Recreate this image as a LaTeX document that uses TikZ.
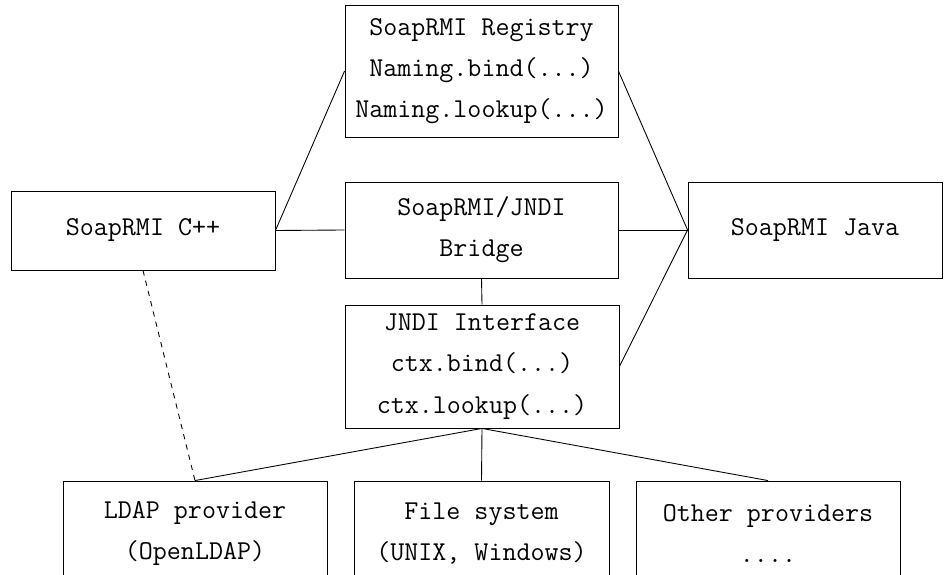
\documentclass[tikz,border=0pt]{standalone}
\usetikzlibrary{positioning}

\tikzset{
  box/.style={draw,line width=0.5pt,align=center,inner sep=0pt,
    font=\ttfamily\fontsize{15.5}{23.5}\selectfont},
  link/.style={line width=0.5pt},
}

\begin{document}
\begin{tikzpicture}

\useasboundingbox (0,0) rectangle (18.88,-11.5);

% -- registry
\node [box,minimum width=5.46cm,minimum height=2.64cm] (reg) at (9.63,-1.42)
  {SoapRMI Registry\\Naming.bind(...)\\Naming.lookup(...)};

% -- middle row
\node [box,minimum width=5.28cm,minimum height=1.58cm] (cpp) at (2.86,-4.61) {SoapRMI C++};
\node [box,minimum width=5.46cm,minimum height=1.92cm] (bridge) at (9.63,-4.60) {SoapRMI/JNDI\\Bridge};
\node [box,minimum width=5.08cm,minimum height=1.92cm] (java) at (16.3,-4.60) {SoapRMI Java};

% -- jndi
\node [box,minimum width=5.48cm,minimum height=2.46cm] (jndi) at (9.64,-7.33)
  {JNDI Interface\\ctx.bind(...)\\ctx.lookup(...)};

% -- providers
\node [box,minimum width=5.28cm,minimum height=2.1cm] (ldap) at (3.90,-10.67) {LDAP provider\\(OpenLDAP)};
\node [box,minimum width=5.10cm,minimum height=2.1cm] (file) at (9.63,-10.67) {File system\\(UNIX, Windows)};
\node [box,minimum width=5.28cm,minimum height=2.1cm] (other) at (15.36,-10.67) {Other providers\\....};

% -- draw links
\draw[link] (cpp.east) -- (reg.west);
\draw[link] (cpp.east) -- (bridge.west);

\draw[link] (reg.east) -- (java.west);
\draw[link] (bridge.east) -- (java.west);
\draw[link] (jndi.east) -- (java.west);

\draw[link] (bridge.south) -- (jndi.north);

\draw[link] (jndi.south) -- (ldap.north);
\draw[link] (jndi.south) -- (file.north);
\draw[link] (jndi.south) -- (other.north);

\draw[link,dashed] (cpp.south) -- (ldap.north);
\end{tikzpicture}
\end{document}
